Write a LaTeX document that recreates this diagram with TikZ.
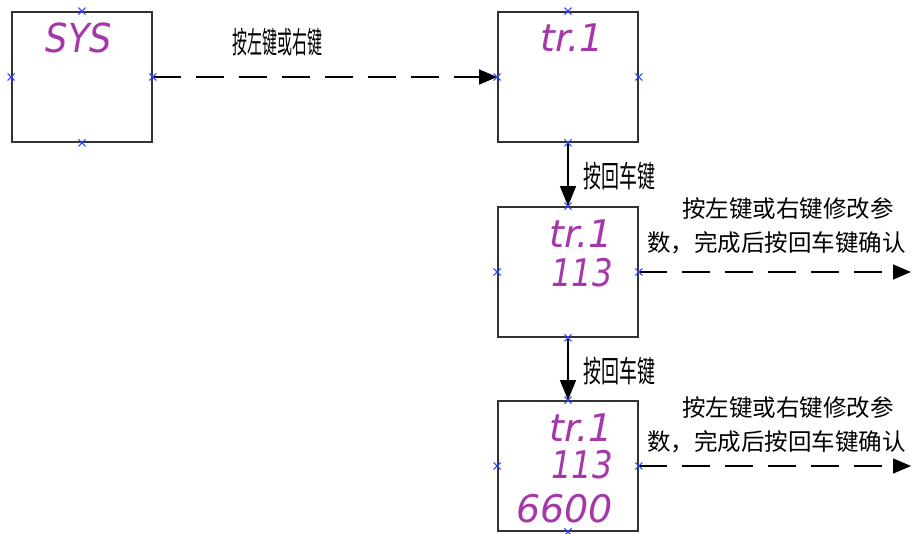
\documentclass[tikz,border=0pt]{standalone}
\usepackage{fontspec}
\usetikzlibrary{arrows.meta}
\newfontfamily\cjk{Noto Sans CJK SC}
\newfontfamily\segfont{DejaVu Sans}
\definecolor{segcol}{RGB}{165,55,170}
\definecolor{markcol}{RGB}{50,60,255}
\definecolor{framecol}{RGB}{50,50,50}
\begin{document}
\begin{tikzpicture}[x=1pt,y=-1pt,
  dispbox/.style={draw=framecol,line width=1.8pt,minimum width=140pt,minimum height=130pt,inner sep=0pt},
  digits/.style={text=segcol,inner sep=0pt,font=\segfont\itshape\fontsize{38}{38}\selectfont},
  markx/.style={draw=markcol,line width=1pt},
  dasharrow/.style={draw=black,line width=1.3pt,dash pattern=on 28pt off 15pt,-{Triangle[length=18pt,width=15pt]}},
  solidarrow/.style={draw=black,line width=1.3pt,-{Triangle[length=20pt,width=16pt]}},
  narrowlabel/.style={inner sep=0pt,font=\cjk\fontsize{30}{30}\selectfont},
  longlabel/.style={inner sep=0pt,align=left,font=\cjk\fontsize{23.5}{34}\selectfont}
]
\useasboundingbox (0,0) rectangle (912,533);
\node[dispbox] (b1) at (82,77) {};
\node[dispbox] (b2) at (568,77) {};
\node[dispbox] (b3) at (568,272) {};
\node[dispbox] (b4) at (568,466) {};
% display texts
\node[digits,font=\segfont\itshape\fontsize{40}{40}\selectfont] (d1) at (79,38) {\scalebox{0.88}[1]{SYS}};
\node[digits] (d2) at (572,38) {tr.1};
\node[digits,anchor=east] (d3a) at (613,234) {tr.1};
\node[digits,anchor=east] (d3b) at (613,273) {\scalebox{0.85}[1]{113}};
\node[digits,anchor=east] (d4a) at (613,428) {tr.1};
\node[digits,anchor=east] (d4b) at (613,465) {\scalebox{0.85}[1]{113}};
\node[digits,anchor=east] (d4c) at (613,509) {6600};
% connectors
\coordinate (e3) at (911,272);
\coordinate (e4) at (911,466);
\draw[dasharrow] (b1.east) -- (b2.west);
\draw[solidarrow] (b2.south) -- (b3.north);
\draw[dasharrow] (b3.east) -- (e3);
\draw[solidarrow] (b3.south) -- (b4.north);
\draw[dasharrow] (b4.east) -- (e4);
% labels
\node[narrowlabel] (l1) at (277,42) {\scalebox{0.5}[1]{按左键或右键}};
\node[narrowlabel] (l2) at (619,176) {\scalebox{0.6}[1]{按回车键}};
\node[narrowlabel] (l4) at (619,371) {\scalebox{0.6}[1]{按回车键}};
\node[longlabel,anchor=west] (l3) at (647,226) {\hspace{35pt}按左键或右键修改参\\数，完成后按回车键确认};
\node[longlabel,anchor=west] (l5) at (647,425) {\hspace{35pt}按左键或右键修改参\\数，完成后按回车键确认};
% cross marks
\foreach \b in {b1,b2,b3,b4}{
  \foreach \a in {north,south,east,west}{
    \draw[markx,shift={(\b.\a)}] (-3.5,-3.5) -- (3.5,3.5) (-3.5,3.5) -- (3.5,-3.5);
  }
}
\end{tikzpicture}
\end{document}
